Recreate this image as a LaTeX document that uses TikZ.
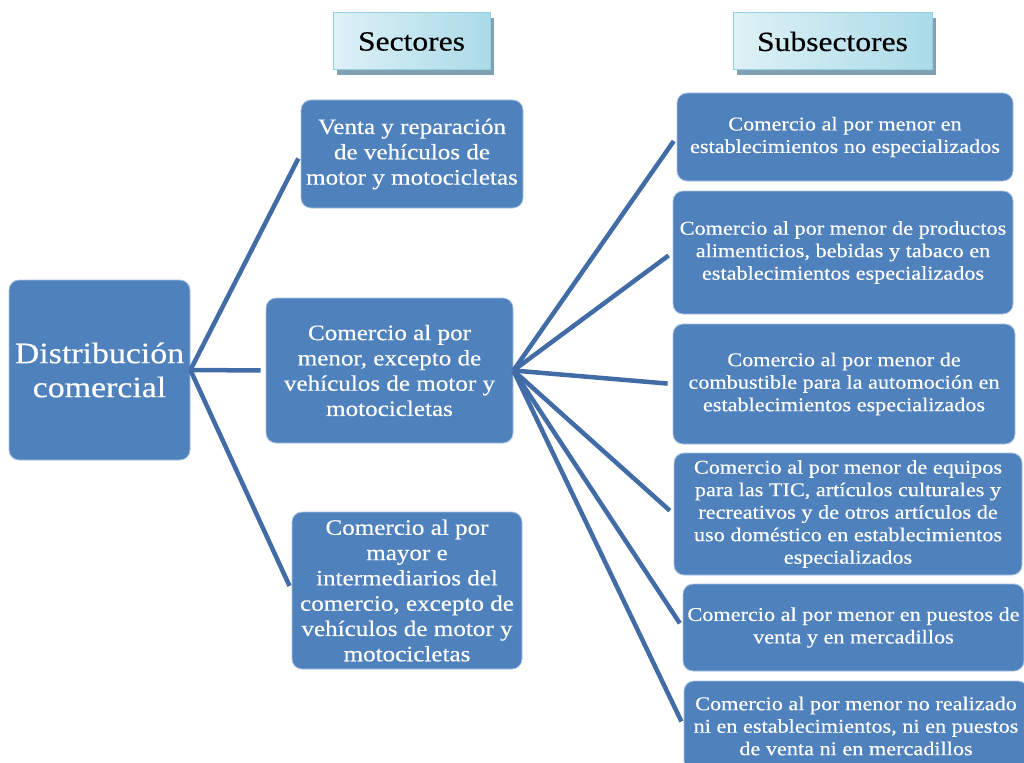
\documentclass[tikz,border=0pt]{standalone}
\usepackage{fontspec}
\setmainfont[FakeStretch=1.14, FakeBold=0.4]{Liberation Serif}
\usetikzlibrary{shadows}

\definecolor{boxblue}{RGB}{79,129,189}
\definecolor{boxedge}{RGB}{170,195,228}
\definecolor{linkblue}{RGB}{66,108,166}
\definecolor{hdrlight}{RGB}{222,241,246}
\definecolor{hdrdark}{RGB}{170,219,232}
\definecolor{hdredge}{RGB}{150,208,224}
\definecolor{hdrshadow}{RGB}{128,160,180}

\tikzset{
  blk/.style={rectangle, rounded corners=10pt, fill=boxblue, draw=boxedge,
    line width=0.8pt, text=white, align=center, inner sep=0pt},
  dist/.style={blk, font=\fontsize{29.7}{34}\selectfont},
  sect/.style={blk, font=\fontsize{22}{25.3}\selectfont},
  subs/.style={blk, font=\fontsize{19.5}{22.5}\selectfont},
  hdr/.style={rectangle, inner sep=0pt, left color=hdrlight, right color=hdrdark,
    draw=hdredge, line width=1pt, font=\fontsize{27.7}{32}\selectfont,
    drop shadow={shadow xshift=4pt, shadow yshift=-5pt, fill=hdrshadow, opacity=1}},
  link/.style={draw=linkblue, line width=4.5pt, shorten >=5pt},
}

\begin{document}
\begin{tikzpicture}[x=1pt, y=-1pt]
\useasboundingbox (0,0) rectangle (1024,762);

% column headers
\node[hdr, minimum width=157pt, minimum height=57pt] (hsec) at (411.5,41.5) {Sectores};
\node[hdr, minimum width=199pt, minimum height=57pt] (hsub) at (832.5,41.5) {Subsectores};

% root
\node[dist, minimum width=181pt, minimum height=180pt] (root) at (99.5,370)
  {Distribución\\comercial};

% sectors
\node[sect, minimum width=222pt, minimum height=108pt] (venta) at (412,154)
  {Venta y reparación\\de vehículos de\\motor y motocicletas};
\node[sect, minimum width=247pt, minimum height=145pt] (menor) at (389.5,370.5)
  {Comercio al por\\menor, excepto de\\vehículos de motor y\\motocicletas};
\node[sect, minimum width=230pt, minimum height=157pt] (mayor) at (407,590.5)
  {Comercio al por\\mayor e\\intermediarios del\\comercio, excepto de\\vehículos de motor y\\motocicletas};

% subsectors
\node[subs, minimum width=336pt, minimum height=88pt] (s1) at (845,137)
  {Comercio al por menor en\\establecimientos no especializados};
\node[subs, minimum width=340pt, minimum height=123pt] (s2) at (843,252.5)
  {Comercio al por menor de productos\\alimenticios, bebidas y tabaco en\\establecimientos especializados};
\node[subs, minimum width=342pt, minimum height=120pt] (s3) at (844,384)
  {Comercio al por menor de\\combustible para la automoción en\\establecimientos especializados};
\node[subs, minimum width=348pt, minimum height=122pt] (s4) at (848,514)
  {Comercio al por menor de equipos\\para las TIC, artículos culturales y\\recreativos y de otros artículos de\\uso doméstico en establecimientos\\especializados};
\node[subs, minimum width=341pt, minimum height=87pt] (s5) at (853.5,627.5)
  {Comercio al por menor en puestos de\\venta y en mercadillos};
\node[subs, minimum width=344pt, minimum height=90pt] (s6) at (856,726)
  {Comercio al por menor no realizado\\ni en establecimientos, ni en puestos\\de venta ni en mercadillos};

% connectors
\foreach \t in {venta, menor, mayor}
  \draw[link] (root.east) -- (\t.west);
\foreach \t in {s1, s2, s3, s4, s5, s6}
  \draw[link] (menor.east) -- (\t.west);
\end{tikzpicture}
\end{document}
